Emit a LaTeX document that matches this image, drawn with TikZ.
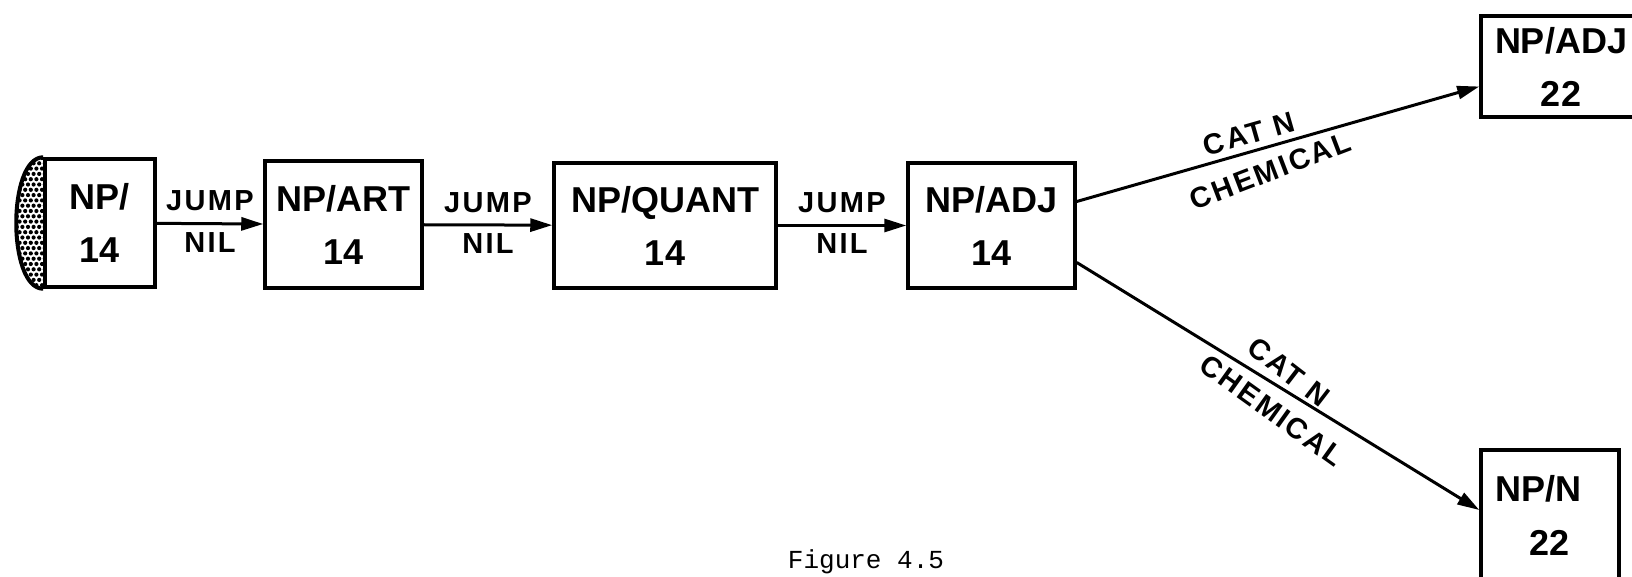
\documentclass[tikz,border=0pt]{standalone}
\usepackage{fontspec}
\setmainfont{Liberation Sans}
\newfontfamily\capfont{Liberation Mono}
\newfontfamily\labfont[LetterSpace=8]{Liberation Sans}
\usetikzlibrary{arrows.meta,calc}
\begin{document}
\begin{tikzpicture}[x=1pt,y=-1pt,
  box/.style={draw, line width=3.5pt, inner sep=0pt, align=center, font=\fontsize{36}{53}\selectfont\bfseries},
  arr/.style={line width=3pt, -{Triangle[length=22pt,width=13pt]}},
  lab/.style={font=\labfont\fontsize{29}{29}\selectfont\bfseries, inner sep=4pt},
  labup/.style={lab, above, inner sep=11pt},
  labdn/.style={lab, below, inner sep=7pt},
]
\useasboundingbox (0,0) rectangle (1632,577);
\clip (0,0) rectangle (1632,577);
% state nodes
\node[box, minimum width=110pt, minimum height=128pt] (n1) at (100,223) {NP/\\14};
\node[box, minimum width=157pt, minimum height=127pt] (n2) at (343.5,224.5) {NP/ART\\14};
\node[box, minimum width=222pt, minimum height=125pt] (n3) at (665,225.5) {NP/QUANT\\14};
\node[box, minimum width=167pt, minimum height=125pt] (n4) at (991.5,225.5) {NP/ADJ\\14};
\node[box, minimum width=160pt, minimum height=101pt] (n5) at (1561,66.5) {NP/ADJ\\22};
\node[box, minimum width=138pt, minimum height=150pt] (n6) at (1550,525) {};
\node[font=\fontsize{36}{36}\selectfont\bfseries] (n6a) at (1538,489) {NP/N};
\node[font=\fontsize{36}{36}\selectfont\bfseries] (n6b) at (1549,543) {22};
% start marker (dotted half dome)
\begin{scope}
  \clip (n1.north west) .. controls +(-36,0) and +(-36,0) .. (n1.south west) -- cycle;
  \foreach \i in {0,...,7} \foreach \j in {0,...,24} {
    \fill ({14+\i*5.6+mod(\j,2)*2.8}, {158+\j*5.3}) circle (2.1);
  }
\end{scope}
\draw[line width=4pt] (n1.north west) .. controls +(-36,0) and +(-36,0) .. (n1.south west);
% arcs
\draw[arr] (n1) -- (n2) node[midway, labup] {JUMP} node[midway, labdn] {NIL};
\draw[arr] (n2) -- (n3) node[midway, labup] {JUMP} node[midway, labdn] {NIL};
\draw[arr] (n3) -- (n4) node[midway, labup] {JUMP} node[midway, labdn] {NIL};
\draw[arr] ([yshift=24pt]n4.east) -- ([yshift=-20pt]n5.west)
  node[pos=0.44, sloped, labup, inner sep=6pt] {CAT N}
  node[pos=0.46, sloped, labdn, inner sep=12pt, rotate=5] {CHEMICAL};
\draw[arr] ([yshift=-37pt]n4.east) -- ([yshift=15pt]n6.west)
  node[pos=0.50, sloped, labup, inner sep=6pt, rotate=-6] {CAT N}
  node[pos=0.52, sloped, labdn, inner sep=12pt, rotate=-4] {CHEMICAL};
% caption
\node[font=\capfont\fontsize{26}{26}\selectfont] (cap) at (866,562) {Figure 4.5};
\end{tikzpicture}
\end{document}
